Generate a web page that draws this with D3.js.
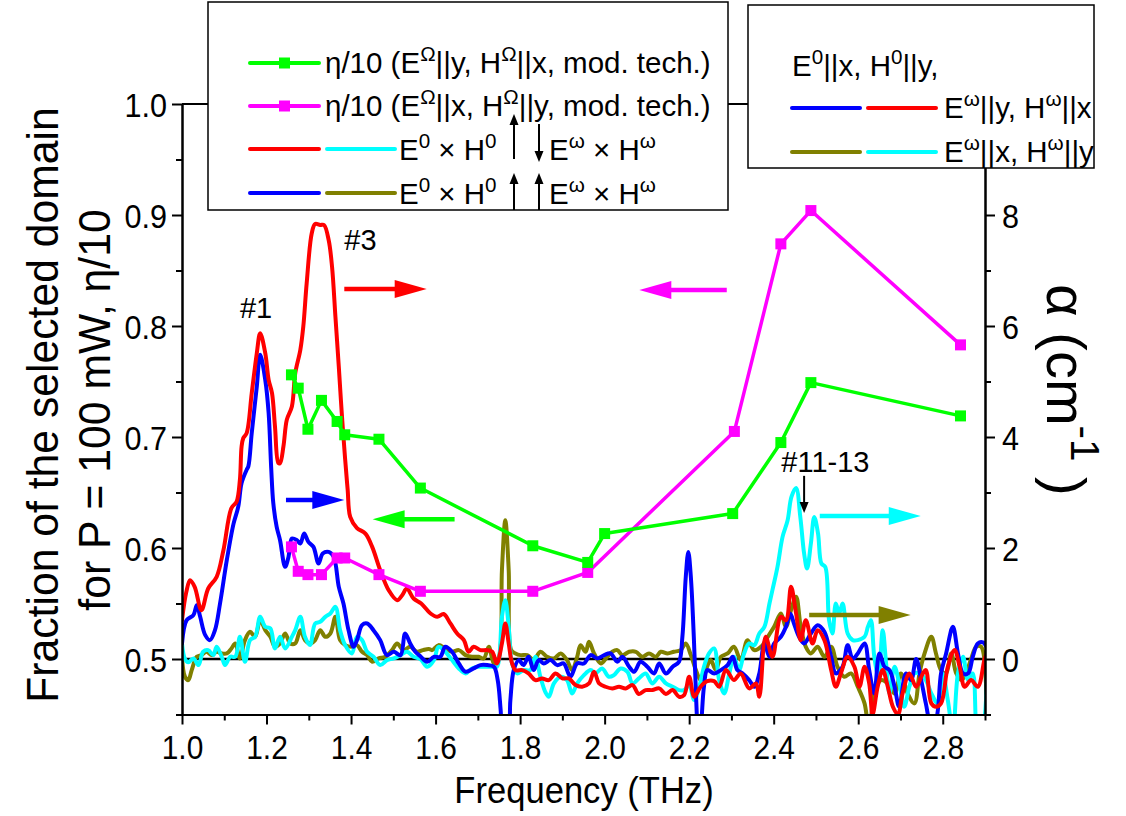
<!DOCTYPE html>
<html>
<head>
<meta charset="utf-8">
<script src="https://cdn.jsdelivr.net/npm/d3@7"></script>
<style>
  html, body { margin: 0; padding: 0; background: #fff; }
  svg text { font-family: "Liberation Sans", Arial, Helvetica, sans-serif; fill: #000; }
</style>
</head>
<body>
<svg id="chart" width="1126" height="816"></svg>
<script>
// ---- Ticks ----
const freqTicks = [1.0, 1.2, 1.4, 1.6, 1.8, 2.0, 2.2, 2.4, 2.6, 2.8];
const freqMinor = [1.1, 1.3, 1.5, 1.7, 1.9, 2.1, 2.3, 2.5, 2.7, 2.9];
const fracTicks = [0.5, 0.6, 0.7, 0.8, 0.9, 1.0];
const fracMinor = [0.45, 0.55, 0.65, 0.75, 0.85, 0.95];
const alphaTicks = [0, 2, 4, 6, 8];
const alphaMinor = [-1, 1, 3, 5, 7, 9];

// ---- eta/10 from the modulation technique (left axis) ----
const etaYFreq = [1.259, 1.275, 1.298, 1.330, 1.367, 1.385, 1.466, 1.564, 1.830, 1.960, 2.000, 2.303, 2.417, 2.488, 2.842];
const etaY     = [0.756, 0.744, 0.707, 0.733, 0.714, 0.702, 0.698, 0.654, 0.602, 0.587, 0.613, 0.631, 0.695, 0.749, 0.719];
const etaXFreq = [1.259, 1.275, 1.298, 1.330, 1.367, 1.385, 1.466, 1.564, 1.830, 1.960, 2.307, 2.417, 2.488, 2.842];
const etaX     = [0.601, 0.579, 0.576, 0.576, 0.591, 0.591, 0.576, 0.561, 0.561, 0.578, 0.705, 0.874, 0.904, 0.783];

// ---- Absorption spectra alpha (cm^-1), [frequency THz, alpha] (right axis) ----
const redSpectrum = [
  [1.000,0.70],[1.010,1.20],[1.019,1.42],[1.030,1.30],[1.046,0.88],[1.062,1.27],[1.082,1.48],[1.098,1.96],
  [1.117,2.72],[1.129,2.83],[1.137,3.23],[1.141,3.83],[1.145,3.98],[1.153,4.07],[1.165,4.79],[1.177,5.51],
  [1.185,5.87],[1.197,5.51],[1.205,5.03],[1.213,4.79],[1.220,4.19],[1.228,3.53],[1.232,3.53],[1.240,3.83],
  [1.248,4.31],[1.260,4.55],[1.268,5.15],[1.280,5.57],[1.287,5.99],[1.295,6.77],[1.307,7.67],[1.315,7.84],
  [1.327,7.82],[1.336,7.82],[1.347,7.55],[1.355,7.07],[1.363,6.17],[1.371,5.27],[1.378,4.43],[1.386,3.60],
  [1.392,3.05],[1.398,2.56],[1.414,2.36],[1.434,2.26],[1.450,2.02],[1.469,1.60],[1.489,1.24],[1.509,1.06],
  [1.521,1.15],[1.532,1.27],[1.548,1.09],[1.566,1.00],[1.588,0.82],[1.604,0.76],[1.619,0.81],[1.635,0.64],
  [1.651,0.46],[1.667,0.34],[1.678,0.13],[1.690,0.22],[1.706,0.16],[1.722,0.16],[1.734,0.13],[1.745,-0.08],
  [1.757,0.28],[1.765,0.64],[1.773,0.28],[1.781,-0.08],[1.789,-0.20],[1.805,-0.20],[1.820,-0.26],[1.836,-0.38],
  [1.852,-0.35],[1.868,-0.38],[1.884,-0.26],[1.900,-0.35],[1.915,-0.35],[1.931,-0.47],[1.947,-0.50],[1.963,-0.44],
  [1.975,-0.23],[1.987,-0.44],[2.002,-0.50],[2.018,-0.53],[2.034,-0.50],[2.050,-0.53],[2.066,-0.47],[2.081,-0.63],
  [2.097,-0.56],[2.113,-0.56],[2.129,-0.53],[2.145,-0.63],[2.161,-0.56],[2.176,-0.68],[2.188,-0.65],[2.200,-0.32],
  [2.212,-0.68],[2.227,-0.50],[2.243,-0.40],[2.259,-0.40],[2.271,-0.50],[2.287,-0.20],[2.306,-0.38],[2.322,-0.26],
  [2.342,-0.53],[2.358,-0.44],[2.366,-0.68],[2.381,0.40],[2.397,0.04],[2.417,0.76],[2.429,0.70],[2.441,1.30],
  [2.453,0.82],[2.464,0.34],[2.476,0.70],[2.492,0.28],[2.504,0.52],[2.520,0.34],[2.536,-0.20],[2.547,-0.50],
  [2.559,-0.26],[2.575,0.04],[2.591,-0.14],[2.603,-0.50],[2.615,-0.14],[2.626,-0.44],[2.634,-1.00],[2.646,-0.50],
  [2.658,-0.20],[2.670,-0.50],[2.682,-0.86],[2.694,-1.00],[2.705,-0.62],[2.721,-0.26],[2.737,-0.50],[2.753,-0.26],
  [2.760,-0.20],[2.773,-0.80],[2.784,-0.86],[2.796,-0.80],[2.812,-0.14],[2.828,0.16],[2.840,-0.14],[2.852,-0.50],
  [2.867,-0.38],[2.883,-0.50],[2.899,0.00],[2.905,0.12]
];

const blueSpectrum = [
  [1.000,0.28],[1.011,0.70],[1.027,0.79],[1.035,0.97],[1.043,0.76],[1.055,0.43],[1.066,0.34],[1.078,0.52],
  [1.090,1.00],[1.106,1.78],[1.122,2.44],[1.133,2.74],[1.141,3.17],[1.153,3.41],[1.157,3.47],[1.165,4.07],
  [1.177,4.91],[1.185,5.48],[1.197,5.03],[1.205,4.43],[1.211,3.45],[1.216,2.81],[1.224,2.38],[1.232,2.14],
  [1.244,1.66],[1.252,1.84],[1.260,2.17],[1.272,2.14],[1.280,2.08],[1.289,2.26],[1.299,2.11],[1.311,2.02],
  [1.323,1.72],[1.333,1.90],[1.347,1.93],[1.359,1.84],[1.371,1.30],[1.382,1.00],[1.394,0.52],[1.406,0.22],
  [1.414,0.34],[1.426,0.61],[1.438,0.64],[1.453,0.52],[1.469,0.34],[1.485,0.07],[1.501,0.13],[1.517,0.07],
  [1.528,0.46],[1.540,0.28],[1.552,0.13],[1.564,0.05],[1.580,-0.05],[1.596,0.04],[1.611,0.04],[1.623,0.22],
  [1.639,0.13],[1.655,-0.08],[1.671,-0.23],[1.690,-0.17],[1.706,-0.11],[1.722,-0.11],[1.738,-0.14],[1.747,-0.38],
  [1.754,-0.92],[1.760,-1.50],[1.770,-1.50],[1.777,-0.74],[1.785,-0.20],[1.797,-0.02],[1.808,-0.11],[1.820,0.04],
  [1.832,-0.20],[1.844,-0.02],[1.856,-0.08],[1.872,-0.02],[1.888,-0.11],[1.903,-0.08],[1.919,-0.32],[1.935,-0.08],
  [1.951,-0.08],[1.967,0.07],[1.983,0.01],[1.999,0.07],[2.014,0.10],[2.030,-0.05],[2.042,0.04],[2.058,-0.14],
  [2.070,-0.23],[2.085,-0.05],[2.101,-0.14],[2.117,-0.26],[2.129,-0.08],[2.145,-0.26],[2.161,-0.14],[2.176,-0.05],
  [2.184,0.40],[2.192,1.48],[2.198,1.93],[2.204,1.48],[2.211,0.40],[2.217,-0.80],[2.222,-1.50],[2.228,-1.20],
  [2.235,-0.50],[2.243,-0.20],[2.259,-0.26],[2.275,-0.20],[2.291,-0.11],[2.303,0.04],[2.314,-0.20],[2.326,-0.26],
  [2.342,-0.38],[2.354,-0.50],[2.366,-0.26],[2.378,0.28],[2.390,0.04],[2.401,0.28],[2.417,0.40],[2.429,0.58],
  [2.439,0.82],[2.448,0.64],[2.460,0.40],[2.472,0.28],[2.488,0.46],[2.504,0.61],[2.520,0.49],[2.536,0.04],
  [2.547,-0.26],[2.563,-0.14],[2.575,0.25],[2.587,0.00],[2.599,0.10],[2.615,0.28],[2.626,-0.20],[2.638,-0.62],
  [2.650,0.10],[2.662,-0.14],[2.674,-0.20],[2.686,-0.50],[2.697,-0.86],[2.713,-0.26],[2.725,-0.38],[2.737,0.00],
  [2.749,-0.38],[2.760,-0.80],[2.773,-1.20],[2.784,-1.10],[2.796,-0.26],[2.808,0.10],[2.824,0.58],[2.836,0.10],
  [2.848,-0.26],[2.860,-0.26],[2.871,0.04],[2.883,0.28],[2.895,0.30],[2.905,0.20]
];

const cyanSpectrum = [
  [1.000,0.28],[1.007,0.00],[1.015,-0.06],[1.027,0.01],[1.039,-0.11],[1.050,0.13],[1.062,0.16],[1.074,0.07],
  [1.082,0.22],[1.094,0.04],[1.102,-0.11],[1.114,0.04],[1.126,0.04],[1.137,0.40],[1.149,-0.05],[1.161,0.34],
  [1.173,0.40],[1.185,0.76],[1.197,0.58],[1.209,0.55],[1.220,0.19],[1.232,0.40],[1.244,0.19],[1.260,0.40],
  [1.268,0.52],[1.280,0.76],[1.291,0.40],[1.303,0.25],[1.315,0.64],[1.327,0.67],[1.339,0.76],[1.351,0.82],
  [1.363,0.94],[1.374,0.52],[1.386,0.25],[1.402,0.10],[1.414,0.40],[1.426,0.34],[1.438,0.13],[1.453,0.04],
  [1.469,-0.11],[1.485,-0.02],[1.501,0.01],[1.517,0.07],[1.532,0.13],[1.548,0.04],[1.564,0.00],[1.580,-0.14],
  [1.596,-0.02],[1.607,0.22],[1.623,0.13],[1.639,-0.02],[1.655,-0.17],[1.671,-0.26],[1.686,-0.17],[1.702,-0.14],
  [1.718,-0.14],[1.734,-0.14],[1.745,-0.14],[1.757,0.76],[1.765,1.06],[1.773,0.58],[1.781,-0.08],[1.793,-0.26],
  [1.808,-0.20],[1.824,-0.20],[1.836,0.04],[1.848,-0.32],[1.860,-0.60],[1.868,-0.68],[1.880,-0.44],[1.896,-0.32],
  [1.911,-0.38],[1.923,-0.62],[1.935,-0.44],[1.951,-0.29],[1.967,-0.20],[1.978,-0.26],[1.994,-0.17],[2.010,-0.32],
  [2.022,-0.29],[2.038,-0.17],[2.054,-0.23],[2.066,-0.44],[2.081,-0.35],[2.097,-0.26],[2.113,-0.44],[2.129,-0.32],
  [2.145,-0.44],[2.161,-0.50],[2.176,-0.56],[2.188,-0.56],[2.200,-0.47],[2.212,-0.74],[2.224,-0.50],[2.235,-0.14],
  [2.247,0.10],[2.259,0.19],[2.271,-0.38],[2.283,-0.62],[2.295,-0.26],[2.306,0.04],[2.318,-0.20],[2.330,0.10],
  [2.342,0.28],[2.354,0.25],[2.366,0.46],[2.378,0.58],[2.390,1.00],[2.397,1.24],[2.409,1.66],[2.421,2.20],
  [2.433,2.50],[2.442,2.92],[2.453,3.08],[2.463,2.56],[2.472,1.90],[2.479,1.63],[2.488,2.08],[2.496,2.56],
  [2.505,2.26],[2.513,1.72],[2.522,1.66],[2.531,0.70],[2.539,0.46],[2.547,1.00],[2.555,0.82],[2.563,1.00],
  [2.575,0.46],[2.587,0.34],[2.599,0.34],[2.615,0.40],[2.623,0.58],[2.630,0.70],[2.638,0.04],[2.648,-0.32],
  [2.658,0.52],[2.666,-0.08],[2.674,-0.62],[2.686,-0.14],[2.697,-0.44],[2.709,-0.86],[2.721,-0.50],[2.733,-0.26],
  [2.745,-0.26],[2.760,-0.38],[2.773,-0.62],[2.788,-0.80],[2.800,-0.26],[2.812,-0.74],[2.824,-1.30],[2.836,-0.26],
  [2.848,0.04],[2.860,-0.38],[2.871,-0.26],[2.883,-1.30],[2.895,-1.20],[2.905,0.34]
];

const oliveSpectrum = [
  [1.000,0.04],[1.007,-0.32],[1.015,-0.38],[1.023,-0.20],[1.035,0.04],[1.046,0.07],[1.058,0.13],[1.070,0.07],
  [1.082,0.13],[1.094,0.10],[1.106,0.10],[1.117,0.19],[1.126,0.28],[1.137,0.01],[1.149,0.34],[1.161,0.49],
  [1.173,0.40],[1.185,0.70],[1.197,0.52],[1.209,0.40],[1.220,0.22],[1.232,0.28],[1.244,0.46],[1.256,0.28],
  [1.268,0.28],[1.280,0.52],[1.291,0.34],[1.303,0.28],[1.315,0.34],[1.327,0.52],[1.339,0.40],[1.351,0.46],
  [1.363,0.76],[1.374,0.34],[1.386,0.25],[1.402,0.22],[1.414,0.25],[1.426,0.13],[1.438,0.07],[1.450,-0.05],
  [1.465,0.01],[1.481,0.04],[1.497,0.16],[1.509,0.28],[1.524,0.16],[1.540,0.22],[1.556,0.13],[1.570,0.16],
  [1.584,0.18],[1.592,0.16],[1.607,0.25],[1.623,0.19],[1.639,0.13],[1.655,0.16],[1.671,0.07],[1.686,0.04],
  [1.702,0.04],[1.714,0.01],[1.726,0.22],[1.738,-0.08],[1.750,0.04],[1.757,1.60],[1.765,2.50],[1.773,1.60],
  [1.779,0.16],[1.789,0.10],[1.801,0.07],[1.817,0.07],[1.832,-0.02],[1.848,0.13],[1.864,0.04],[1.880,0.01],
  [1.896,0.10],[1.911,-0.02],[1.923,-0.20],[1.935,0.04],[1.943,0.25],[1.955,0.13],[1.963,0.31],[1.975,0.10],
  [1.991,-0.08],[2.006,0.04],[2.018,0.13],[2.030,0.16],[2.042,0.07],[2.058,0.13],[2.074,0.13],[2.089,0.04],
  [2.105,0.10],[2.121,0.04],[2.133,0.13],[2.149,0.10],[2.164,0.13],[2.180,0.16],[2.192,0.28],[2.204,0.07],
  [2.216,-0.20],[2.227,-0.38],[2.239,-0.20],[2.251,-0.02],[2.263,-0.20],[2.275,0.04],[2.291,0.10],[2.306,0.22],
  [2.322,-0.02],[2.338,0.34],[2.354,0.16],[2.370,0.22],[2.386,0.40],[2.401,0.58],[2.417,0.82],[2.429,0.58],
  [2.441,0.88],[2.453,1.12],[2.464,0.58],[2.476,0.22],[2.488,0.10],[2.504,0.22],[2.520,0.04],[2.536,0.22],
  [2.551,-0.14],[2.567,-0.32],[2.583,-0.26],[2.599,-0.50],[2.615,-0.80],[2.626,-1.30],[2.638,-0.62],[2.654,-0.38],
  [2.670,-0.44],[2.686,-0.62],[2.701,-0.26],[2.717,-0.62],[2.733,-0.80],[2.745,-0.26],[2.757,0.10],[2.773,0.40],
  [2.784,0.10],[2.796,-0.20],[2.808,-0.26],[2.820,0.10],[2.832,-0.26],[2.844,-0.38],[2.855,-0.26],[2.867,0.00],
  [2.879,0.22],[2.891,0.22],[2.903,-0.62]
];

// ---- Layout ----
const svg = d3.select("#chart");
const W = 1126, H = 816;
const plot = { left: 182, right: 985, top: 104, bottom: 714.5 };

const x  = d3.scaleLinear().domain([1.0, 2.9]).range([plot.left, plot.right]);
const yL = d3.scaleLinear().domain([0.45, 1.0]).range([plot.bottom, plot.top]);
const yR = d3.scaleLinear().domain([-1, 10]).range([plot.bottom, plot.top]);

svg.append("rect").attr("width", W).attr("height", H).attr("fill", "#fff");

svg.append("clipPath").attr("id", "plotClip")
  .append("rect")
  .attr("x", plot.left).attr("y", plot.top)
  .attr("width", plot.right - plot.left).attr("height", plot.bottom - plot.top);

const COLORS = { red: "#ff0000", blue: "#0000ff", cyan: "#00ffff", olive: "#808000", green: "#00ff00", magenta: "#ff00ff" };

// Narrow the glyphs of a text selection horizontally (tall, condensed lettering)
function condense(sel, factor) {
  sel.each(function () {
    const w = this.getComputedTextLength();
    this.setAttribute("textLength", (w * factor).toFixed(1));
    this.setAttribute("lengthAdjust", "spacingAndGlyphs");
  });
}

// Frame top line and zero-absorption reference line
svg.append("line").attr("x1", plot.left).attr("x2", plot.right)
  .attr("y1", plot.top).attr("y2", plot.top).attr("stroke", "#000").attr("stroke-width", 2);
svg.append("line").attr("x1", plot.left).attr("x2", plot.right)
  .attr("y1", yR(0)).attr("y2", yR(0)).attr("stroke", "#000").attr("stroke-width", 2.5);

// Spectra
const data = svg.append("g").attr("clip-path", "url(#plotClip)");
const spectrumLine = d3.line()
  .x(d => x(d[0])).y(d => yR(d[1]))
  .curve(d3.curveCatmullRom.alpha(0.5));

[[oliveSpectrum, COLORS.olive], [cyanSpectrum, COLORS.cyan], [blueSpectrum, COLORS.blue], [redSpectrum, COLORS.red]]
  .forEach(([s, c]) => {
    data.append("path").datum(s).attr("d", spectrumLine)
      .attr("fill", "none").attr("stroke", c).attr("stroke-width", 4)
      .attr("stroke-linejoin", "round").attr("stroke-linecap", "round");
  });

// eta/10 series with square markers
function etaSeries(freqs, vals, color) {
  const pts = freqs.map((f, i) => [f, vals[i]]);
  data.append("path").datum(pts)
    .attr("d", d3.line().x(d => x(d[0])).y(d => yL(d[1])))
    .attr("fill", "none").attr("stroke", color).attr("stroke-width", 3.5).attr("stroke-linejoin", "round");
  data.selectAll(null).data(pts).enter().append("rect")
    .attr("x", d => x(d[0]) - 5.5).attr("y", d => yL(d[1]) - 5.5)
    .attr("width", 11).attr("height", 11).attr("fill", color);
}
etaSeries(etaXFreq, etaX, COLORS.magenta);
etaSeries(etaYFreq, etaY, COLORS.green);

// ---- Axes ----
const TICK_FONT = 34;
function styleAxis(g, fontSize) {
  g.select(".domain").attr("stroke", "#000").attr("stroke-width", 2);
  g.selectAll(".tick line").attr("stroke", "#000").attr("stroke-width", 2);
  g.selectAll(".tick text").attr("font-size", fontSize).attr("font-family", "Liberation Sans, Arial, sans-serif").attr("fill", "#000");
}

const gx = svg.append("g").attr("transform", `translate(0,${plot.bottom})`)
  .call(d3.axisBottom(x).tickValues(freqTicks).tickFormat(d3.format(".1f")).tickSize(10).tickSizeOuter(0));
styleAxis(gx, TICK_FONT);
gx.selectAll(".tick text").attr("y", 44).attr("dy", 0);
condense(gx.selectAll(".tick text"), 0.88);
const gxm = svg.append("g").attr("transform", `translate(0,${plot.bottom})`)
  .call(d3.axisBottom(x).tickValues(freqMinor).tickFormat("").tickSize(6).tickSizeOuter(0));
styleAxis(gxm, 0);

const gl = svg.append("g").attr("transform", `translate(${plot.left},0)`)
  .call(d3.axisLeft(yL).tickValues(fracTicks).tickFormat(d3.format(".1f")).tickSize(10).tickPadding(5).tickSizeOuter(0));
styleAxis(gl, TICK_FONT);
gl.selectAll(".tick text").attr("dy", "0.36em");
condense(gl.selectAll(".tick text"), 0.9);
const glm = svg.append("g").attr("transform", `translate(${plot.left},0)`)
  .call(d3.axisLeft(yL).tickValues(fracMinor).tickFormat("").tickSize(6).tickSizeOuter(0));
styleAxis(glm, 0);

const gr = svg.append("g").attr("transform", `translate(${plot.right},0)`)
  .call(d3.axisRight(yR).tickValues(alphaTicks).tickFormat(d3.format("d")).tickSize(10).tickPadding(7).tickSizeOuter(0));
styleAxis(gr, TICK_FONT);
gr.selectAll(".tick text").attr("dy", "0.36em");
condense(gr.selectAll(".tick text"), 0.9);
const grm = svg.append("g").attr("transform", `translate(${plot.right},0)`)
  .call(d3.axisRight(yR).tickValues(alphaMinor).tickFormat("").tickSize(6).tickSizeOuter(0));
styleAxis(grm, 0);

// ---- Rich text helper (superscripts) ----
function rich(sel, parts, size, supScale = 0.7) {
  let raised = false;
  const shift = size * 0.42;
  parts.forEach(p => {
    const sup = Array.isArray(p);
    const ts = sel.append("tspan").text(sup ? p[0] : p);
    if (sup) {
      ts.attr("font-size", size * supScale);
      if (!raised) ts.attr("dy", -shift);
      raised = true;
    } else {
      if (raised) ts.attr("dy", shift);
      raised = false;
    }
  });
  return sel;
}

// ---- Axis titles ----
svg.append("text").attr("transform", "translate(584,803)").attr("text-anchor", "middle")
  .attr("font-size", 36).text("Frequency (THz)")
  .call(condense, 0.96);

svg.append("text").attr("transform", "translate(58,405) rotate(-90)").attr("text-anchor", "middle")
  .attr("font-size", 44).text("Fraction of the selected domain")
  .call(condense, 0.97);
svg.append("text").attr("transform", "translate(110,410) rotate(-90)").attr("text-anchor", "middle")
  .attr("font-size", 44).text("for P = 100 mW, \u03b7/10")
  .call(condense, 0.97);

rich(svg.append("text").attr("transform", "translate(1047,390) rotate(90)").attr("text-anchor", "middle")
  .attr("font-size", 56), ["\u03b1 (cm", ["-1"], " )"], 56, 0.72);

// ---- Arrows in the plot ----
function bigArrow(f1, f2, v, color) {
  const x1 = x(f1), x2 = x(f2), y = yL(v);
  const dir = Math.sign(x2 - x1), len = 32, hw = 9;
  svg.append("line").attr("x1", x1).attr("x2", x2 - dir * len * 0.8).attr("y1", y).attr("y2", y)
    .attr("stroke", color).attr("stroke-width", 4.5);
  svg.append("polygon")
    .attr("points", [[x2, y], [x2 - dir * len, y - hw], [x2 - dir * len, y + hw]].map(p => p.join(",")).join(" "))
    .attr("fill", color);
}
bigArrow(1.384, 1.579, 0.8333, COLORS.red);
bigArrow(1.246, 1.384, 0.6432, COLORS.blue);
bigArrow(1.645, 1.451, 0.6259, COLORS.green);
bigArrow(2.289, 2.082, 0.8324, COLORS.magenta);
bigArrow(2.509, 2.748, 0.6288, COLORS.cyan);
bigArrow(2.484, 2.724, 0.5396, COLORS.olive);

function smallArrow(x1, y1, x2, y2) {
  const dx = x2 - x1, dy = y2 - y1, L = Math.hypot(dx, dy);
  const ux = dx / L, uy = dy / L, len = 11, hw = 4.5;
  svg.append("line").attr("x1", x1).attr("y1", y1).attr("x2", x2 - ux * len * 0.7).attr("y2", y2 - uy * len * 0.7)
    .attr("stroke", "#000").attr("stroke-width", 2);
  svg.append("polygon").attr("points", [
    [x2, y2], [x2 - ux * len - uy * hw, y2 - uy * len + ux * hw], [x2 - ux * len + uy * hw, y2 - uy * len - ux * hw]
  ].map(p => p.join(",")).join(" ")).attr("fill", "#000");
}

// Peak labels
svg.append("text").attr("x", x(1.137)).attr("y", yL(0.807)).attr("font-size", 29).text("#1");
svg.append("text").attr("x", x(1.384)).attr("y", yL(0.8685)).attr("font-size", 29).text("#3");
svg.append("text").attr("x", x(2.418)).attr("y", yL(0.6685)).attr("font-size", 29).text("#11-13");
smallArrow(x(2.472), yL(0.665), x(2.472), yL(0.6315));

// ---- Legend (left box) ----
const lg1 = svg.append("g");
lg1.append("rect").attr("x", 208).attr("y", 2).attr("width", 520).attr("height", 208)
  .attr("fill", "#fff").attr("stroke", "#000").attr("stroke-width", 1.5);

function legLine(g, x1, x2, y, color, marker) {
  g.append("line").attr("x1", x1).attr("x2", x2).attr("y1", y).attr("y2", y)
    .attr("stroke", color).attr("stroke-width", 4).attr("stroke-linecap", "round");
  if (marker) g.append("rect").attr("x", (x1 + x2) / 2 - 5.5).attr("y", y - 5.5).attr("width", 11).attr("height", 11).attr("fill", color);
}
const LS = 29.5;
legLine(lg1, 250, 319, 63, COLORS.green, true);
rich(lg1.append("text").attr("x", 325).attr("y", 73).attr("font-size", LS),
  ["\u03b7/10 (E", ["\u03a9"], "||y, H", ["\u03a9"], "||x, mod. tech.)"], LS);
legLine(lg1, 250, 319, 106, COLORS.magenta, true);
rich(lg1.append("text").attr("x", 325).attr("y", 116).attr("font-size", LS),
  ["\u03b7/10 (E", ["\u03a9"], "||x, H", ["\u03a9"], "||y, mod. tech.)"], LS);
legLine(lg1, 250, 319, 149, COLORS.red, false);
legLine(lg1, 327, 395, 149, COLORS.cyan, false);
rich(lg1.append("text").attr("x", 399).attr("y", 160).attr("font-size", LS),
  ["E", ["0"], " \u00d7 H", ["0"]], LS);
rich(lg1.append("text").attr("x", 549).attr("y", 160).attr("font-size", LS),
  ["E", ["\u03c9"], " \u00d7 H", ["\u03c9"]], LS);
legLine(lg1, 250, 319, 193, COLORS.blue, false);
legLine(lg1, 327, 395, 193, COLORS.olive, false);
rich(lg1.append("text").attr("x", 399).attr("y", 204).attr("font-size", LS),
  ["E", ["0"], " \u00d7 H", ["0"]], LS);
rich(lg1.append("text").attr("x", 549).attr("y", 204).attr("font-size", LS),
  ["E", ["\u03c9"], " \u00d7 H", ["\u03c9"]], LS);
smallArrow(514, 159, 514, 114);
smallArrow(539, 124, 539, 162);
smallArrow(514, 210, 514, 173);
smallArrow(539, 210, 539, 173);

// ---- Legend (right box) ----
const lg2 = svg.append("g");
lg2.append("rect").attr("x", 748).attr("y", 5).attr("width", 346).attr("height", 163)
  .attr("fill", "#fff").attr("stroke", "#000").attr("stroke-width", 1.5);
rich(lg2.append("text").attr("x", 792).attr("y", 76).attr("font-size", LS),
  ["E", ["0"], "||x, H", ["0"], "||y,"], LS);
legLine(lg2, 792, 860, 108, COLORS.blue, false);
legLine(lg2, 868, 936, 108, COLORS.red, false);
rich(lg2.append("text").attr("x", 944).attr("y", 118).attr("font-size", LS),
  ["E", ["\u03c9"], "||y, H", ["\u03c9"], "||x"], LS);
legLine(lg2, 792, 860, 152, COLORS.olive, false);
legLine(lg2, 868, 936, 152, COLORS.cyan, false);
rich(lg2.append("text").attr("x", 944).attr("y", 162).attr("font-size", LS),
  ["E", ["\u03c9"], "||x, H", ["\u03c9"], "||y"], LS);
</script>
</body>
</html>
